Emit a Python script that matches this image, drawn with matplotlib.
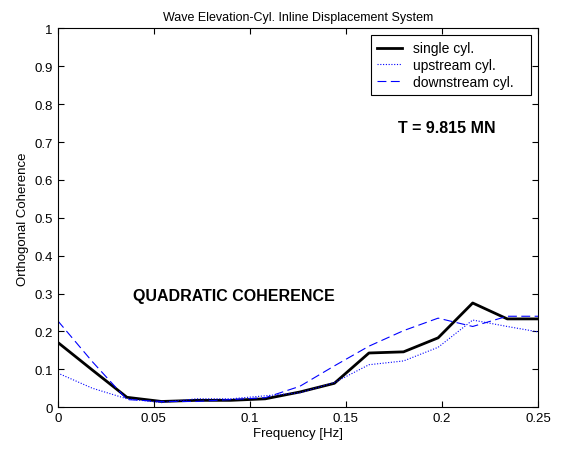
import matplotlib
matplotlib.use("Agg")
import matplotlib.pyplot as plt
import numpy as np

plt.rcParams['font.family'] = ['Liberation Sans', 'DejaVu Sans']

# frequency bins (Hz)
freq = [0, 0.018, 0.036, 0.054, 0.072, 0.090, 0.108, 0.126, 0.144,
        0.162, 0.180, 0.198, 0.216, 0.234, 0.252]
single_cyl = [0.171, 0.098, 0.026, 0.015, 0.018, 0.018, 0.022, 0.040, 0.063,
              0.143, 0.146, 0.183, 0.275, 0.233, 0.233]
upstream_cyl = [0.090, 0.050, 0.022, 0.012, 0.022, 0.022, 0.030, 0.038, 0.065,
                0.112, 0.122, 0.158, 0.230, 0.213, 0.197]
downstream_cyl = [0.228, 0.120, 0.020, 0.015, 0.015, 0.020, 0.025, 0.055, 0.109,
                  0.161, 0.202, 0.235, 0.213, 0.240, 0.240]
names = ['single cyl.', 'upstream cyl.', 'downstream cyl.']

fig = plt.figure(figsize=(5.61, 4.52), dpi=100)
ax = fig.add_axes([0.103, 0.097, 0.856, 0.838])

ax.plot(freq, single_cyl, color='black', lw=2)
ax.plot(freq, upstream_cyl, color='blue', lw=0.8, ls=(0, (1, 1.5)))
ax.plot(freq, downstream_cyl, color='blue', lw=0.8, ls=(0, (8, 4)))

ax.set_xlim(0, 0.25)
ax.set_ylim(0, 1)
ax.set_xticks([0, 0.05, 0.1, 0.15, 0.2, 0.25])
ax.set_xticklabels(['0', '0.05', '0.1', '0.15', '0.2', '0.25'])
ax.set_yticks(np.arange(0, 1.01, 0.1))
ax.set_yticklabels(['0', '0.1', '0.2', '0.3', '0.4', '0.5', '0.6', '0.7', '0.8', '0.9', '1'])
ax.tick_params(direction='in', top=True, right=True, labelsize=9.5, length=4)

ax.set_title('Wave Elevation-Cyl. Inline Displacement System', fontsize=9, pad=6)
ax.set_xlabel('Frequency [Hz]', fontsize=9.5, labelpad=2)
ax.set_ylabel('Orthogonal Coherence', fontsize=9.5, labelpad=4)

ax.text(0.039, 0.295, 'QUADRATIC COHERENCE', fontsize=11.5, fontweight='bold', va='center')
ax.text(0.177, 0.738, 'T = 9.815 MN', fontsize=11.5, fontweight='bold', va='center')

# trailing spaces give the wider right margin of the original legend box
leg = ax.legend([n + '   ' for n in names], loc='upper right', bbox_to_anchor=(0.986, 0.982),
                borderaxespad=0, fontsize=10, fancybox=False, framealpha=1, edgecolor='black',
                handlelength=1.8, handletextpad=0.75, labelspacing=0.2, borderpad=0.45)
leg.get_frame().set_linewidth(0.8)

fig.savefig('out.png', dpi=100)
